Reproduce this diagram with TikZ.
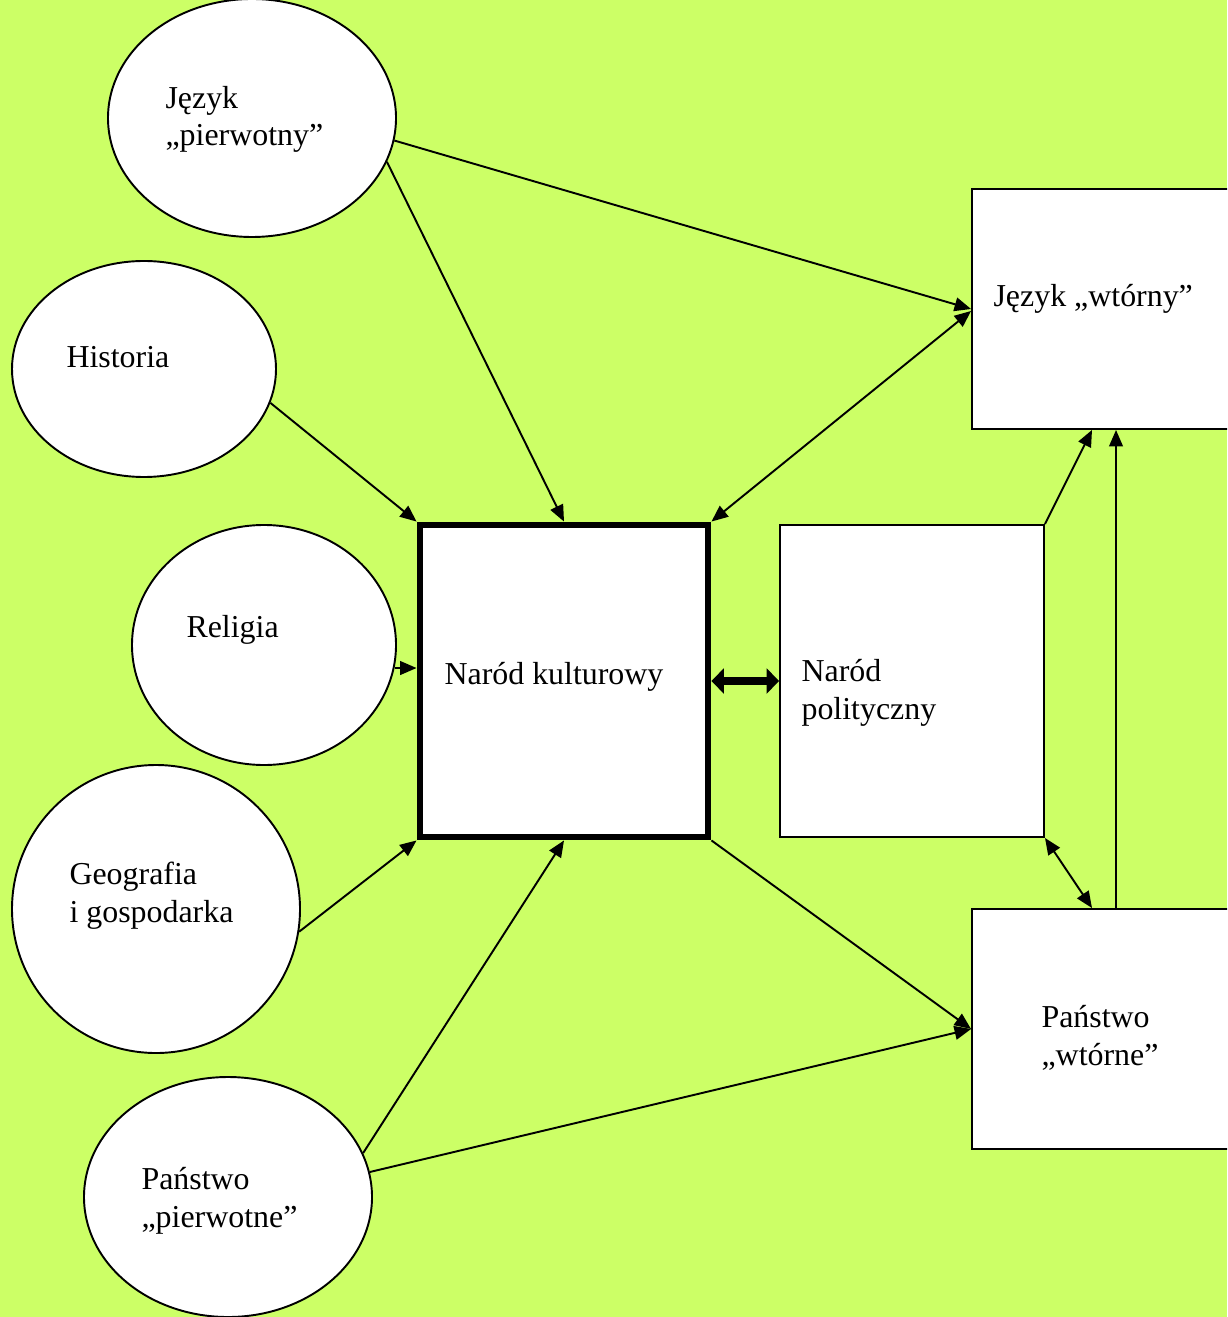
\documentclass[tikz,border=0pt]{standalone}
\usepackage{fontspec}
\setmainfont{Liberation Serif}
\usetikzlibrary{shapes.geometric,arrows.meta}
\definecolor{tlo}{RGB}{204,255,102}
\newcommand\pxu{0.3636pt}
\tikzset{
  ovalnode/.style={ellipse,draw,fill=white,line width=0.7pt,inner sep=0pt},
  boxnode/.style={rectangle,draw,fill=white,line width=0.7pt,inner sep=0pt},
  txtnode/.style={anchor=base west,align=left,inner sep=0pt,font=\fontsize{11.6pt}{13.8pt}\selectfont},
  arr/.style={-{Triangle[length=6pt,width=5pt]},line width=0.7pt},
  dblarr/.style={{Triangle[length=6pt,width=5pt]}-{Triangle[length=6pt,width=5pt]},line width=0.7pt}
}
\begin{document}
\begin{tikzpicture}[x=\pxu,y=-\pxu]
	\fill[tlo] (0,0) rectangle (1227,1317);
	\clip (0,0) rectangle (1227,1317);
	% ovals on the left
	\node (jp) [ovalnode,minimum width=288*\pxu,minimum height=238*\pxu] at (252,118) {};
	\node (hi) [ovalnode,minimum width=264*\pxu,minimum height=216*\pxu] at (144,369) {};
	\node (re) [ovalnode,minimum width=264*\pxu,minimum height=240*\pxu] at (264,645) {};
	\node (ge) [ovalnode,minimum width=288*\pxu,minimum height=288*\pxu] at (156,909) {};
	\node (pp) [ovalnode,minimum width=288*\pxu,minimum height=240*\pxu] at (228,1197) {};
	% boxes
	\node (nk) [boxnode,line width=2.5pt,minimum width=288*\pxu,minimum height=312*\pxu] at (564,681) {};
	\node (np) [boxnode,minimum width=264*\pxu,minimum height=312*\pxu] at (912,681) {};
	\node (jw) [boxnode,minimum width=288*\pxu,minimum height=240*\pxu] at (1116,309) {};
	\node (pw) [boxnode,minimum width=288*\pxu,minimum height=240*\pxu] at (1116,1029) {};
	% texts (base = last line)
	\node (jpt) [txtnode] at (165,146) {Język\\„pierwotny”};
	\node (hit) [txtnode] at (66,368) {Historia};
	\node (ret) [txtnode] at (186,637) {Religia};
	\node (get) [txtnode] at (69,922) {Geografia\\i gospodarka};
	\node (ppt) [txtnode] at (141,1227) {Państwo\\„pierwotne”};
	\node (nkt) [txtnode] at (444,684) {Naród kulturowy};
	\node (npt) [txtnode] at (801,719) {Naród\\polityczny};
	\node (jwt) [txtnode] at (993,307) {Język „wtórny”};
	\node (pwt) [txtnode] at (1041,1065) {Państwo\\„wtórne”};
	% arrows
	\draw[arr] (jp.-9) -- (jw.west);
	\draw[arr] (jp.-18) -- (nk.north);
	\draw[arr] (hi.-15) -- (nk.north west);
	\draw[arr] (re.-10) -- (re.-10 -| nk.west);
	\draw[arr] (ge.-9) -- (nk.south west);
	\draw[arr] (pp.18) -- (nk.south);
	\draw[arr] (pp.10) -- (pw.west);
	\draw[arr] (nk.south east) -- (pw.west);
	\draw[dblarr] (nk.north east) -- ([yshift=-2*\pxu]jw.west);
	\draw[{Triangle[length=4.5pt,width=9pt]}-{Triangle[length=4.5pt,width=9pt]},line width=3pt] (nk.east) -- (np.west);
	\draw[arr] (np.north east) -- ([xshift=-24*\pxu]jw.south);
	\draw[arr] (pw.north) -- (jw.south);
	\draw[dblarr] (np.south east) -- ([xshift=-24*\pxu]pw.north);
\end{tikzpicture}
\end{document}
